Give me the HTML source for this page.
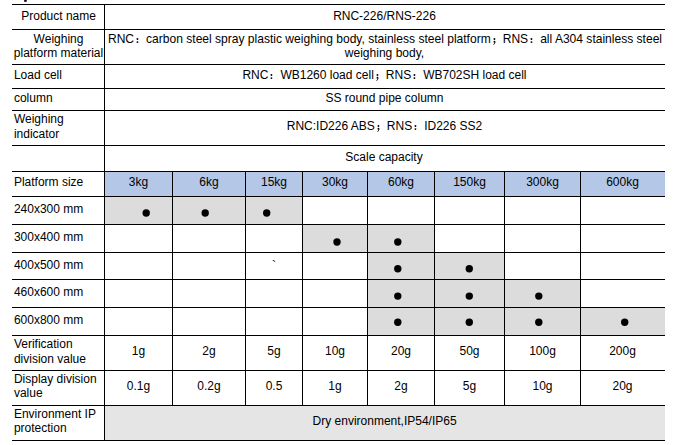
<!DOCTYPE html>
<html><head><meta charset="utf-8"><title>spec</title>
<style>
html,body{margin:0;padding:0;background:#fff;}
body{width:685px;height:445px;position:relative;overflow:hidden;font-family:"Liberation Sans",sans-serif;font-size:12px;color:#000;}
.f,.h,.v,.t,.d{position:absolute;}
.h{left:12px;width:653px;height:1px;background:#000;}
.v{width:1px;background:#000;}
.t{line-height:14px;height:14px;white-space:nowrap;}
.a{font-size:12px;}
.d{background:#000;border-radius:50%;}
.fw{display:inline-block;width:12px;height:0;position:relative;vertical-align:baseline;}
.fw svg{position:absolute;left:0;top:-6px;fill:#000;overflow:visible;}
</style></head><body>
<div class="f" style="left:105px;top:172px;width:560px;height:24px;background:#b4c7e7"></div>
<div class="f" style="left:105px;top:197px;width:197px;height:27px;background:#dcdcdc"></div>
<div class="f" style="left:303px;top:225px;width:131px;height:27px;background:#dcdcdc"></div>
<div class="f" style="left:368px;top:253px;width:136px;height:26px;background:#dcdcdc"></div>
<div class="f" style="left:368px;top:280px;width:212px;height:27px;background:#dcdcdc"></div>
<div class="f" style="left:368px;top:308px;width:297px;height:27px;background:#dcdcdc"></div>
<div class="f" style="left:105px;top:406px;width:560px;height:34px;background:#e5e5e5"></div>
<div class="h" style="top:4px"></div>
<div class="h" style="top:29px"></div>
<div class="h" style="top:64px"></div>
<div class="h" style="top:88px"></div>
<div class="h" style="top:110px"></div>
<div class="h" style="top:145px"></div>
<div class="h" style="top:171px"></div>
<div class="h" style="top:196px"></div>
<div class="h" style="top:224px"></div>
<div class="h" style="top:252px"></div>
<div class="h" style="top:279px"></div>
<div class="h" style="top:307px"></div>
<div class="h" style="top:335px"></div>
<div class="h" style="top:370px"></div>
<div class="h" style="top:405px"></div>
<div class="h" style="top:440px"></div>
<div class="v" style="left:104px;top:4px;height:437px"></div>
<div class="v" style="left:172px;top:171px;height:234px"></div>
<div class="v" style="left:245px;top:171px;height:234px"></div>
<div class="v" style="left:302px;top:171px;height:234px"></div>
<div class="v" style="left:367px;top:171px;height:234px"></div>
<div class="v" style="left:434px;top:171px;height:234px"></div>
<div class="v" style="left:504px;top:171px;height:234px"></div>
<div class="v" style="left:580px;top:171px;height:234px"></div>
<svg class="f" style="left:0;top:0" width="40" height="4"><rect x="24.2" y="0" width="2.5" height="1.8"/></svg>
<div class="t a" style="left:13.2px;width:90.8px;top:9px;text-align:center">Product name</div>
<div class="t a" style="left:12px;width:93px;top:32px;text-align:center">Weighing</div>
<div class="t a" style="left:12px;width:93px;top:45.5px;text-align:center">platform material</div>
<div class="t a" style="left:13.9px;width:90.1px;top:68px;text-align:left">Load cell</div>
<div class="t a" style="left:13.9px;width:90.1px;top:91px;text-align:left">column</div>
<div class="t a" style="left:13.9px;width:90.1px;top:112px;text-align:left">Weighing</div>
<div class="t a" style="left:13.9px;width:90.1px;top:127.2px;text-align:left">indicator</div>
<div class="t a" style="left:13.9px;width:90.1px;top:175.1px;text-align:left">Platform size</div>
<div class="t a" style="left:13.9px;width:90.1px;top:202.3px;text-align:left">240x300 mm</div>
<div class="t a" style="left:13.9px;width:90.1px;top:230.1px;text-align:left">300x400 mm</div>
<div class="t a" style="left:13.9px;width:90.1px;top:258.0px;text-align:left">400x500 mm</div>
<div class="t a" style="left:13.9px;width:90.1px;top:285.1px;text-align:left">460x600 mm</div>
<div class="t a" style="left:13.9px;width:90.1px;top:313.1px;text-align:left">600x800 mm</div>
<div class="t a" style="left:13.9px;width:90.1px;top:337.4px;text-align:left">Verification</div>
<div class="t a" style="left:13.9px;width:90.1px;top:352.2px;text-align:left">division value</div>
<div class="t a" style="left:13.9px;width:90.1px;top:372.4px;text-align:left">Display division</div>
<div class="t a" style="left:13.9px;width:90.1px;top:386.3px;text-align:left">value</div>
<div class="t a" style="left:13.9px;width:90.1px;top:407px;text-align:left">Environment IP</div>
<div class="t a" style="left:13.9px;width:90.1px;top:421px;text-align:left">protection</div>
<div class="t" style="left:104.4px;width:560.2px;top:9px;text-align:center">RNC-226/RNS-226</div>
<div class="t" style="left:105px;width:560px;top:32px;text-align:center"><span style="font-size:12.05px">RNC<span class="fw"><svg width="12" height="10" viewBox="0 -6 12 10"><circle cx="3.45" cy="-4" r="0.95"/><circle cx="3.45" cy="-0.9" r="0.95"/></svg></span>carbon steel spray plastic weighing body, stainless steel platform<span class="fw"><svg width="12" height="10" viewBox="0 -6 12 10"><circle cx="3.45" cy="-4" r="0.95"/><circle cx="3.45" cy="-1.2" r="0.95"/><path d="M4.4,-1.3 C4.45,0.5 3.25,1.5 2.25,2.0 L2.1500000000000004,1.6 C3.0500000000000003,1.0 3.5500000000000003,0.2 3.45,-0.5 Z"/></svg></span>RNS<span class="fw"><svg width="12" height="10" viewBox="0 -6 12 10"><circle cx="3.45" cy="-4" r="0.95"/><circle cx="3.45" cy="-0.9" r="0.95"/></svg></span>all A304 stainless steel</span></div>
<div class="t" style="left:104.4px;width:560.2px;top:45.5px;text-align:center"><span style="font-size:12.05px">weighing body,</span></div>
<div class="t" style="left:104.4px;width:560.2px;top:68px;text-align:center">RNC<span class="fw"><svg width="12" height="10" viewBox="0 -6 12 10"><circle cx="3.45" cy="-4" r="0.95"/><circle cx="3.45" cy="-0.9" r="0.95"/></svg></span>WB1260 load cell<span class="fw"><svg width="12" height="10" viewBox="0 -6 12 10"><circle cx="3.45" cy="-4" r="0.95"/><circle cx="3.45" cy="-1.2" r="0.95"/><path d="M4.4,-1.3 C4.45,0.5 3.25,1.5 2.25,2.0 L2.1500000000000004,1.6 C3.0500000000000003,1.0 3.5500000000000003,0.2 3.45,-0.5 Z"/></svg></span>RNS<span class="fw"><svg width="12" height="10" viewBox="0 -6 12 10"><circle cx="3.45" cy="-4" r="0.95"/><circle cx="3.45" cy="-0.9" r="0.95"/></svg></span>WB702SH load cell</div>
<div class="t" style="left:104.4px;width:560.2px;top:91px;text-align:center">SS round pipe column</div>
<div class="t" style="left:104.4px;width:560.2px;top:119px;text-align:center">RNC:ID226 ABS<span class="fw"><svg width="12" height="10" viewBox="0 -6 12 10"><circle cx="3.45" cy="-4" r="0.95"/><circle cx="3.45" cy="-1.2" r="0.95"/><path d="M4.4,-1.3 C4.45,0.5 3.25,1.5 2.25,2.0 L2.1500000000000004,1.6 C3.0500000000000003,1.0 3.5500000000000003,0.2 3.45,-0.5 Z"/></svg></span>RNS<span class="fw"><svg width="12" height="10" viewBox="0 -6 12 10"><circle cx="3.45" cy="-4" r="0.95"/><circle cx="3.45" cy="-0.9" r="0.95"/></svg></span>ID226 SS2</div>
<div class="t" style="left:104px;width:560px;top:150px;text-align:center">Scale capacity</div>
<div class="t" style="left:104.6px;width:560.0px;top:414.2px;text-align:center">Dry environment,IP54/IP65</div>
<div class="t" style="left:105px;width:67px;top:175.3px;text-align:center">3kg</div>
<div class="t" style="left:173px;width:72px;top:175.3px;text-align:center">6kg</div>
<div class="t" style="left:246px;width:56px;top:175.3px;text-align:center">15kg</div>
<div class="t" style="left:303px;width:64px;top:175.3px;text-align:center">30kg</div>
<div class="t" style="left:368px;width:66px;top:175.3px;text-align:center">60kg</div>
<div class="t" style="left:435px;width:69px;top:175.3px;text-align:center">150kg</div>
<div class="t" style="left:505px;width:75px;top:175.3px;text-align:center">300kg</div>
<div class="t" style="left:581px;width:83px;top:175.3px;text-align:center">600kg</div>
<div class="t" style="left:105px;width:67px;top:344px;text-align:center">1g</div>
<div class="t" style="left:173px;width:72px;top:344px;text-align:center">2g</div>
<div class="t" style="left:246px;width:56px;top:344px;text-align:center">5g</div>
<div class="t" style="left:303px;width:64px;top:344px;text-align:center">10g</div>
<div class="t" style="left:368px;width:66px;top:344px;text-align:center">20g</div>
<div class="t" style="left:435px;width:69px;top:344px;text-align:center">50g</div>
<div class="t" style="left:505px;width:75px;top:344px;text-align:center">100g</div>
<div class="t" style="left:581px;width:83px;top:344px;text-align:center">200g</div>
<div class="t" style="left:105px;width:67px;top:379px;text-align:center">0.1g</div>
<div class="t" style="left:173px;width:72px;top:379px;text-align:center">0.2g</div>
<div class="t" style="left:246px;width:56px;top:379px;text-align:center">0.5</div>
<div class="t" style="left:303px;width:64px;top:379px;text-align:center">1g</div>
<div class="t" style="left:368px;width:66px;top:379px;text-align:center">2g</div>
<div class="t" style="left:435px;width:69px;top:379px;text-align:center">5g</div>
<div class="t" style="left:505px;width:75px;top:379px;text-align:center">10g</div>
<div class="t" style="left:581px;width:83px;top:379px;text-align:center">20g</div>
<svg class="f" style="left:0;top:0" width="685" height="445" viewBox="0 0 685 445"><circle cx="146.2" cy="213" r="3.7"/><circle cx="205.2" cy="213" r="3.7"/><circle cx="266.7" cy="213" r="3.7"/><circle cx="337.0" cy="242" r="3.7"/><circle cx="397.8" cy="242" r="3.7"/><circle cx="397.8" cy="268.8" r="3.7"/><circle cx="469.3" cy="268.8" r="3.7"/><circle cx="397.8" cy="296.1" r="3.7"/><circle cx="469.3" cy="296.1" r="3.7"/><circle cx="538.8" cy="296.1" r="3.7"/><circle cx="397.8" cy="322.2" r="3.7"/><circle cx="469.3" cy="322.2" r="3.7"/><circle cx="538.8" cy="322.2" r="3.7"/><circle cx="624.7" cy="322.2" r="3.7"/></svg>
<div class="t" style="left:246px;width:56px;top:258.5px;text-align:center">`</div>
</body></html>
